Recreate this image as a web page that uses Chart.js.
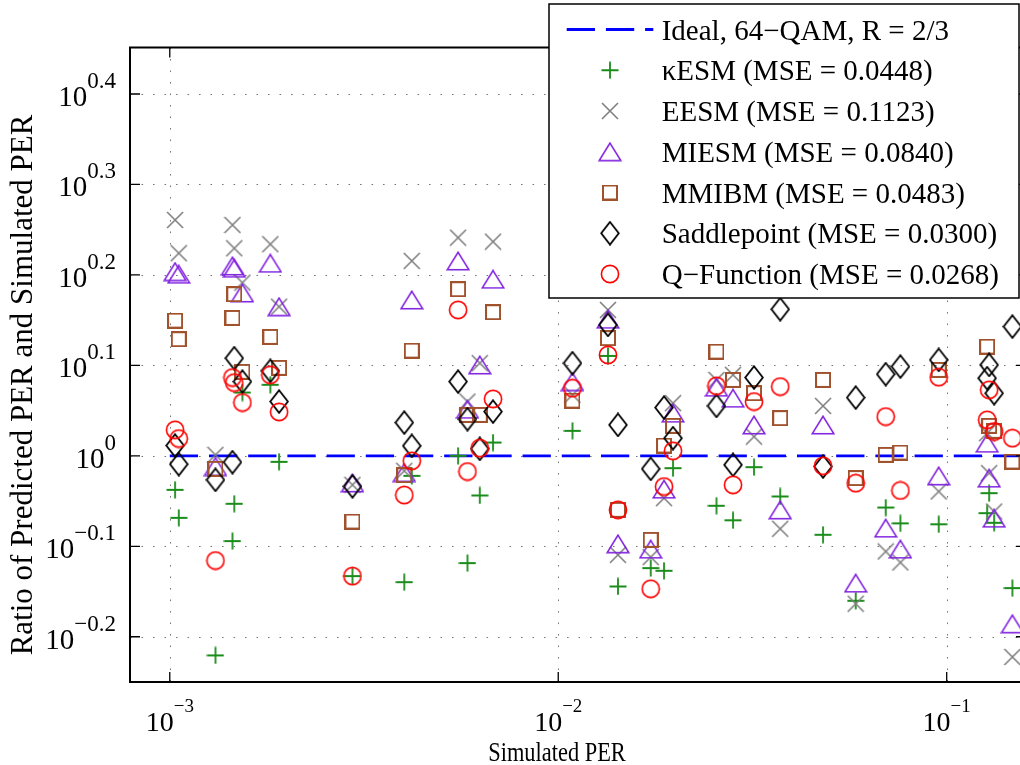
<!DOCTYPE html>
<html><head><meta charset="utf-8">
<script src="https://cdn.jsdelivr.net/npm/chart.js@4.4.0/dist/chart.umd.min.js"></script>
<style>
html,body{margin:0;padding:0;overflow:hidden;background:#fff;width:1020px;height:765px}
#wrap{width:1020px;height:765px;overflow:hidden;position:relative}
canvas{display:block}
</style></head>
<body><div id="wrap"><canvas id="c" width="1040" height="765"></canvas></div>
<script>
// ---------------- data ----------------
const perSimulated = [0.001032,0.001055,0.001311,0.001450,0.001466,0.001538,0.001815,0.001912,0.002953,0.004015,0.004197,0.005523,0.005840,0.006280,0.006795,0.01088,0.01343,0.01425,0.01730,0.01872,0.01975,0.02555,0.02818,0.03192,0.03728,0.04804,0.05831,0.06966,0.07601,0.09537,0.1271,0.1286,0.1325,0.1476];
const ratioKESM   = [0.9171,0.8540,0.6017,0.8049,0.8851,1.1748,1.1982,0.9849,0.7363,0.7251,0.9504,1.0000,0.7611,0.9040,1.0344,1.0657,1.2897,0.7171,0.7515,0.7463,0.9692,0.8806,0.8487,0.9716,0.9017,0.8180,0.6915,0.8767,0.8422,0.8401,0.8643,0.9094,0.8433,0.7142];
const ratioEESM   = [1.8229,1.6749,1.0025,1.7999,1.6962,1.5541,1.7136,1.4620,0.9289,0.9626,1.6424,1.7427,1.1482,1.2660,1.7250,1.1680,1.4498,0.7773,0.7728,0.8979,1.1435,1.2133,1.2289,1.0503,0.8306,1.1356,0.6863,0.7839,0.7623,0.9133,1.0594,0.9569,0.8679,0.5993];
const ratioMIESM  = [1.5983,1.5877,0.9732,1.6216,1.6121,1.5140,1.6328,1.4620,0.9336,0.9584,1.4872,1.6424,1.1261,1.2605,1.5676,1.2081,1.4159,0.7994,0.7887,0.9188,1.1148,1.1911,1.1581,1.0820,0.8716,1.0820,0.7233,0.8320,0.7887,0.9504,1.0328,0.9449,0.8534,0.6522];
const ratioMMIBM  = [1.4109,1.3457,0.9675,1.4206,1.5090,1.2383,1.3536,1.2510,0.8460,0.9521,1.3072,1.5283,1.1099,1.1099,1.4413,1.1510,1.3492,0.8716,0.8075,1.0266,1.0793,1.3039,1.2133,1.1729,1.1007,1.2133,0.9449,1.0025,1.0084,1.2446,1.3205,1.0793,1.0657,0.9856];
const ratioSaddle = [1.0266,0.9791,0.9408,0.9841,1.2822,1.2081,1.2415,1.1482,0.9253,1.0884,1.0258,1.2081,1.0979,1.0180,1.1193,1.2660,1.3955,1.0820,0.9675,1.1306,1.0461,1.1356,0.9774,1.2205,1.4524,0.9732,1.1599,1.2311,1.2550,1.2766,1.2186,1.2605,1.1729,1.3896];
const ratioQfunc  = [1.0684,1.0450,0.7661,1.2205,1.2050,1.1453,1.2289,1.1184,0.7363,0.9050,0.9874,1.4498,0.9608,1.0198,1.1560,1.1881,1.2929,0.8716,0.7129,0.9248,1.0128,1.1950,0.9289,1.1482,1.1928,0.9749,0.9329,1.1051,0.9156,1.2217,1.0959,1.1829,1.0638,1.0461];
const idealX = [0.001, 0.2];
const idealY = [1, 1];
const xTickValues = [1e-3, 1e-2, 1e-1];
const xTickSup = ['\u22123', '\u22122', '\u22121'];
const yTickExp = [-0.2, -0.1, 0, 0.1, 0.2, 0.3, 0.4];
const yTickSup = ['\u22120.2', '\u22120.1', '0', '0.1', '0.2', '0.3', '0.4'];
const xRange = [7.9e-4, 0.16];
const yRangeExp = [-0.25, 0.4514];
const legendLabels = ['Ideal, 64\u2212QAM, R = 2/3','\u03baESM (MSE = 0.0448)','EESM (MSE = 0.1123)','MIESM (MSE = 0.0840)','MMIBM (MSE = 0.0483)','Saddlepoint (MSE = 0.0300)','Q\u2212Function (MSE = 0.0268)'];
const xTitle = 'Simulated PER';
const yTitle = 'Ratio of Predicted PER and Simulated PER';

// ---------------- markers ----------------
const FONT = '"Liberation Serif","Times New Roman",Times,serif';
function mk(w, h, lw, draw) {
  const c = document.createElement('canvas'); c.width = w; c.height = h;
  const g = c.getContext('2d'); g.lineWidth = lw; draw(g); return c;
}
const mPlus = mk(18, 18, 1.8, g => { g.strokeStyle = '#1a8c1a'; g.beginPath(); g.moveTo(0.5, 9); g.lineTo(17.5, 9); g.moveTo(9, 0.5); g.lineTo(9, 17.5); g.stroke(); });
const mX = mk(18, 18, 1.6, g => { g.strokeStyle = '#7f7f7f'; g.beginPath(); g.moveTo(1, 1); g.lineTo(17, 17); g.moveTo(17, 1); g.lineTo(1, 17); g.stroke(); });
const mTri = mk(24, 20, 1.6, g => { g.strokeStyle = '#8020e0'; g.beginPath(); g.moveTo(12, 1.3); g.lineTo(22.7, 18.7); g.lineTo(1.3, 18.7); g.closePath(); g.stroke(); });
const mSq = mk(16, 16, 2, g => { g.strokeStyle = '#a0522d'; g.strokeRect(1, 1, 14, 14); });
const mDia = mk(20, 25, 1.8, g => { g.strokeStyle = '#000'; g.beginPath(); g.moveTo(10, 1.2); g.lineTo(18.8, 12.5); g.lineTo(10, 23.8); g.lineTo(1.2, 12.5); g.closePath(); g.stroke(); });
const mCirc = mk(20, 20, 1.6, g => { g.strokeStyle = '#ff0000'; g.beginPath(); g.arc(10, 10, 8.6, 0, Math.PI * 2); g.stroke(); });
const markers = [mPlus, mX, mTri, mSq, mDia, mCirc];

function pts(ys) { return perSimulated.map((x, i) => ({ x: x, y: ys[i] })); }
const series = [ratioKESM, ratioEESM, ratioMIESM, ratioMMIBM, ratioSaddle, ratioQfunc];

const datasets = [{
  label: legendLabels[0], type: 'line',
  data: idealX.map((x, i) => ({ x: x, y: idealY[i] })),
  borderColor: '#0000ff', borderWidth: 2.8, borderDash: [28.3, 10.9],
  pointRadius: 0, fill: false, order: 10
}];
series.forEach((s, i) => datasets.push({
  label: legendLabels[i + 1], data: pts(s), showLine: false,
  pointStyle: markers[i], pointRadius: 8, order: 9 - i
}));

// ---------------- plugin: grid, box, labels, legend ----------------
const matlabPlugin = {
  id: 'matlab',
  beforeDatasetsDraw(chart) {
    const { ctx, chartArea: a, scales: { x, y } } = chart;
    ctx.save();
    ctx.strokeStyle = '#777'; ctx.lineWidth = 1; ctx.setLineDash([1.6, 9.9]);
    yTickExp.forEach(e => {
      const py = Math.round(y.getPixelForValue(Math.pow(10, e))) + 0.5;
      ctx.beginPath(); ctx.moveTo(a.left, py); ctx.lineTo(a.right, py); ctx.stroke();
    });
    xTickValues.forEach(v => {
      const px = Math.round(x.getPixelForValue(v)) + 0.5;
      ctx.beginPath(); ctx.moveTo(px, a.top); ctx.lineTo(px, a.bottom); ctx.stroke();
    });
    ctx.restore();
  },
  afterDatasetsDraw(chart) {
    const { ctx, chartArea: a, scales: { x, y } } = chart;
    ctx.save();
    ctx.strokeStyle = '#000'; ctx.lineWidth = 1.3; ctx.setLineDash([]);
    yTickExp.forEach(e => {
      const py = y.getPixelForValue(Math.pow(10, e));
      ctx.beginPath(); ctx.moveTo(a.left, py); ctx.lineTo(a.left + 10, py);
      ctx.moveTo(a.right, py); ctx.lineTo(a.right - 10, py); ctx.stroke();
    });
    xTickValues.forEach(v => {
      const px = x.getPixelForValue(v);
      ctx.beginPath(); ctx.moveTo(px, a.bottom); ctx.lineTo(px, a.bottom - 10);
      ctx.moveTo(px, a.top); ctx.lineTo(px, a.top + 10); ctx.stroke();
    });
    ctx.lineWidth = 2;
    ctx.strokeRect(a.left, a.top, a.right - a.left, a.bottom - a.top);

    // tick labels
    ctx.fillStyle = '#000'; ctx.textBaseline = 'alphabetic'; ctx.textAlign = 'left';
    const baseF = '29px ' + FONT, supF = '23px ' + FONT;
    yTickExp.forEach((e, i) => {
      const py = y.getPixelForValue(Math.pow(10, e));
      ctx.font = baseF; const bw = ctx.measureText('10').width;
      ctx.font = supF; const sw = ctx.measureText(yTickSup[i]).width;
      const right = 116;
      ctx.font = baseF; ctx.fillText('10', right - sw - bw, py + 12);
      ctx.font = supF; ctx.fillText(yTickSup[i], right - sw, py + 12 - 18);
    });
    const xbF = '28px ' + FONT, xsF = '19px ' + FONT;
    xTickValues.forEach((v, i) => {
      const px = x.getPixelForValue(v);
      ctx.font = xbF; const bw = ctx.measureText('10').width;
      ctx.font = xsF; const sw = ctx.measureText(xTickSup[i]).width;
      const left = px - (bw + sw) / 2;
      ctx.font = xbF; ctx.fillText('10', left, 731);
      ctx.font = xsF; ctx.fillText(xTickSup[i], left + bw, 712);
    });
    // axis titles
    ctx.textAlign = 'center';
    ctx.font = '28px ' + FONT;
    ctx.save(); ctx.translate(557, 761); ctx.scale(0.8, 1);
    ctx.fillText(xTitle, 0, 0); ctx.restore();
    ctx.font = '31px ' + FONT;
    ctx.save(); ctx.translate(32, 385); ctx.rotate(-Math.PI / 2);
    ctx.fillText(yTitle, 0, 0); ctx.restore();

    // legend
    const L = 549, T = 4, R = 1019, B = 298;
    ctx.fillStyle = '#fff'; ctx.fillRect(L, T, R - L, B - T);
    ctx.strokeStyle = '#000'; ctx.lineWidth = 1.5; ctx.strokeRect(L, T, R - L, B - T);
    ctx.fillStyle = '#000'; ctx.textAlign = 'left'; ctx.font = '29px ' + FONT;
    legendLabels.forEach((lab, i) => {
      const bl = 39.5 + 40.75 * i;
      const my = bl - 10;
      if (i === 0) {
        ctx.save(); ctx.strokeStyle = '#0000ff'; ctx.lineWidth = 2.8; ctx.setLineDash([28.3, 10.9]);
        ctx.beginPath(); ctx.moveTo(566.7, my); ctx.lineTo(653.3, my); ctx.stroke(); ctx.restore();
      } else {
        const m = markers[i - 1];
        ctx.drawImage(m, 610 - m.width / 2, my - m.height / 2);
      }
      ctx.fillText(lab, 661.7, bl);
    });
    ctx.restore();
  }
};

new Chart(document.getElementById('c'), {
  type: 'scatter',
  data: { datasets: datasets },
  options: {
    responsive: false, animation: false, devicePixelRatio: 1,
    layout: { padding: { top: 47.5, right: 14, left: 0, bottom: 0 } },
    plugins: { legend: { display: false }, tooltip: { enabled: false } },
    scales: {
      x: {
        type: 'logarithmic', min: xRange[0], max: xRange[1],
        ticks: { display: false }, grid: { display: false }, border: { display: false },
        afterBuildTicks: s => { s.ticks = xTickValues.map(v => ({ value: v })); },
        afterFit: s => { s.height = 83; }
      },
      y: {
        type: 'logarithmic', min: Math.pow(10, yRangeExp[0]), max: Math.pow(10, yRangeExp[1]),
        ticks: { display: false }, grid: { display: false }, border: { display: false },
        afterBuildTicks: s => { s.ticks = yTickExp.map(e => ({ value: Math.pow(10, e) })); },
        afterFit: s => { s.width = 130; }
      }
    }
  },
  plugins: [matlabPlugin]
});
</script>
</body></html>
